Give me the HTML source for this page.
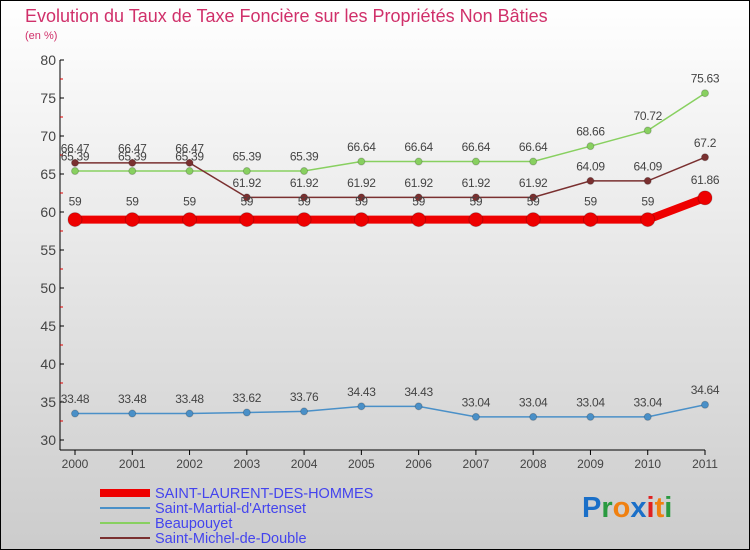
<!DOCTYPE html>
<html><head><meta charset="utf-8"><style>
body{margin:0;width:750px;height:550px;overflow:hidden;font-family:"Liberation Sans",sans-serif}
#wrap{position:absolute;left:0;top:0;width:748px;height:548px;border:1px solid #000;background:linear-gradient(#fff,#ccc)}
</style></head><body>
<div id="wrap">
<svg id="c" width="750" height="550" style="position:absolute;left:-1px;top:-1px"></svg>
</div>
<script>
const years=["2000","2001","2002","2003","2004","2005","2006","2007","2008","2009","2010","2011"];
const stLaurent=[59,59,59,59,59,59,59,59,59,59,59,61.86];
const stMartial=[33.48,33.48,33.48,33.62,33.76,34.43,34.43,33.04,33.04,33.04,33.04,34.64];
const beaupouyet=[65.39,65.39,65.39,65.39,65.39,66.64,66.64,66.64,66.64,68.66,70.72,75.63];
const stMichel=[66.47,66.47,66.47,61.92,61.92,61.92,61.92,61.92,61.92,64.09,64.09,67.2];
const yTicks=[30,35,40,45,50,55,60,65,70,75,80];
const series=[
 {name:"Saint-Martial-d'Artenset",vals:stMartial,color:"#4a90c8",w:1.5,r:3.5,id:"st-martial"},
 {name:"Beaupouyet",vals:beaupouyet,color:"#88d060",w:1.5,r:3.5,id:"beaupouyet"},
 {name:"Saint-Michel-de-Double",vals:stMichel,color:"#7a3030",w:1.5,r:3.5,id:"st-michel"},
 {name:"SAINT-LAURENT-DES-HOMMES",vals:stLaurent,color:"#ee0000",w:8,r:7,id:"st-laurent"}];
const svg=document.getElementById('c');const NS="http://www.w3.org/2000/svg";
const X=i=>75+i*(630/11), Y=v=>60+(80-v)*7.6;
function el(t,a,txt){const e=document.createElementNS(NS,t);for(const k in a)e.setAttribute(k,a[k]);if(txt!==undefined)e.textContent=txt;svg.appendChild(e);return e;}
let t=el('text',{x:25,y:22,fill:'#d0306a','font-size':18},'Evolution du Taux de Taxe Foncière sur les Propriétés Non Bâties');

t=el('text',{x:25,y:39,fill:'#d0306a','font-size':11},'(en %)');

let a=el('line',{x1:60,y1:60,x2:60,y2:450,stroke:'#000'});
a=el('line',{x1:60,y1:450,x2:705,y2:450,stroke:'#000'});
yTicks.forEach(v=>{el('line',{x1:60,y1:Y(v),x2:64,y2:Y(v),stroke:'#000'});
 if(v<80)el('line',{x1:60,y1:Y(v+2.5),x2:63,y2:Y(v+2.5),stroke:'#d00'});
 const l=el('text',{x:56,y:Y(v)+5,'text-anchor':'end','font-size':14,fill:'#444'},v);
 });
years.forEach((y,i)=>{el('line',{x1:X(i),y1:450,x2:X(i),y2:455,stroke:'#000'});
 const l=el('text',{x:X(i),y:468,'text-anchor':'middle','font-size':12,fill:'#444'},y);
 });
series.forEach(s=>{
 const p=el('polyline',{points:s.vals.map((v,i)=>X(i)+','+Y(v)).join(' '),fill:'none',stroke:s.color,'stroke-width':s.w});
 
 s.vals.forEach((v,i)=>{const c=el('circle',{cx:X(i),cy:Y(v),r:s.r,fill:s.color,stroke:'#0003'});
  
  const l=el('text',{x:X(i),y:Y(v)-(s.r+7),'text-anchor':'middle','font-size':12,fill:'#444','letter-spacing':'-0.3'},String(v));
  });
});
const leg=[series[3],series[0],series[1],series[2]];
leg.forEach((s,i)=>{const y=493+i*15;
 const r=el('rect',{x:100,y:y-(i==0?4:1),width:50,height:i==0?8:2,fill:s.color});
 
 const l=el('text',{x:155,y:y+5,'font-size':14.5,fill:'#4444ee'},s.name);
 });
const logo=[['P','#1a6fc8'],['r','#2a9a40'],['o','#f08010'],['x','#1a6fc8'],['i','#e02020'],['t','#f08010'],['i','#2a9a40']];
const g=el('text',{x:582,y:517,'font-size':29,'font-weight':'bold'});
logo.forEach(([c,col])=>{const ts=document.createElementNS(NS,'tspan');ts.setAttribute('fill',col);ts.textContent=c;g.appendChild(ts);});
</script></body></html>
